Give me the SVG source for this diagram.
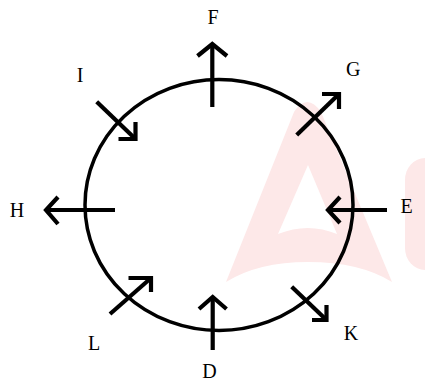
<svg xmlns="http://www.w3.org/2000/svg" width="425" height="383" viewBox="0 0 425 383">
<style>
.wm{fill:#fde8e8;stroke:none}
.ring{fill:none;stroke:#000;stroke-width:3.5}
.ln{fill:none;stroke:#000;stroke-width:4.2;stroke-linecap:butt;stroke-linejoin:miter}
.lbl{font-family:"Liberation Serif","Times New Roman",serif;font-size:20px;fill:#000;text-anchor:middle}
</style>
<rect width="425" height="383" fill="#fff"/>
<g id="watermark">
<path class="wm" fill-rule="evenodd" d="M226,282 L294,112 Q307,92 321,112 L392,282 Q360,262 308,262 Q258,262 226,282 Z M308,165 L278,234 Q308,222 337,234 Z"/>
<rect class="wm" x="405" y="158" width="40" height="112" rx="22"/>
</g>
<g id="circle">
<ellipse class="ring" cx="219" cy="205" rx="134" ry="125.5"/>
</g>
<g id="connectors">
<g id="arrow-F"><path class="ln" d="M212.3,107 V44"/><polyline class="ln" points="197.5,56 212.3,44 227,56"/></g>
<g id="arrow-G"><path class="ln" d="M296.7,135 L339,94"/><polyline class="ln" points="322,94 339,94 339,109"/></g>
<g id="arrow-I"><path class="ln" d="M96.7,101.7 L135.5,139"/><polyline class="ln" points="135.5,122 135.5,139 118.5,139"/></g>
<g id="arrow-H"><path class="ln" d="M115,210 H46"/><polyline class="ln" points="58,197 46,210 58,224"/></g>
<g id="arrow-E"><path class="ln" d="M387,210 H328"/><polyline class="ln" points="340,197 328,210 340,223"/></g>
<g id="arrow-L"><path class="ln" d="M110,314 L151,278"/><polyline class="ln" points="128.5,278 151,278 151,292"/></g>
<g id="arrow-K"><path class="ln" d="M291.7,286.7 L326.5,320"/><polyline class="ln" points="326.5,305 326.5,320 312,320"/></g>
<g id="arrow-D"><path class="ln" d="M212.7,350 V297"/><polyline class="ln" points="199,309 212.7,297 226.5,309"/></g>
</g>
<g id="node-F"><text class="lbl" x="213" y="24">F</text></g>
<g id="node-G"><text class="lbl" x="353.3" y="76">G</text></g>
<g id="node-I"><text class="lbl" x="80" y="82">I</text></g>
<g id="node-H"><text class="lbl" x="17" y="217">H</text></g>
<g id="node-E"><text class="lbl" x="406.7" y="213">E</text></g>
<g id="node-K"><text class="lbl" x="351" y="340">K</text></g>
<g id="node-L"><text class="lbl" x="94" y="350">L</text></g>
<g id="node-D"><text class="lbl" x="209.5" y="378">D</text></g>
</svg>
